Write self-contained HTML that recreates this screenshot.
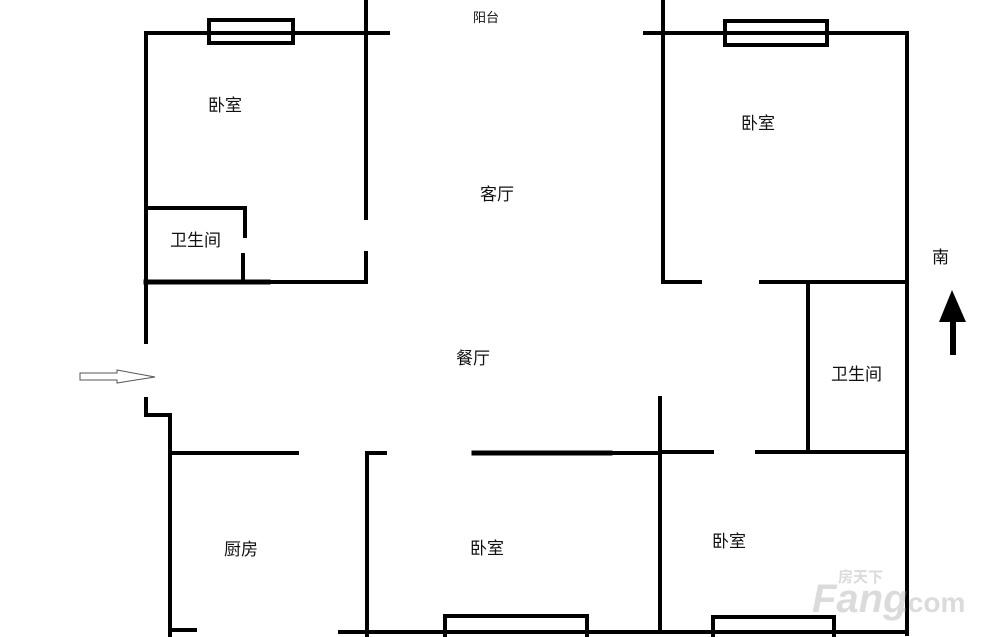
<!DOCTYPE html>
<html><head><meta charset="utf-8"><style>
body{margin:0;background:#fff;width:1000px;height:637px;overflow:hidden}
svg{display:block}
text{font-family:"Liberation Sans","Noto Sans CJK SC",sans-serif;font-size:17px;fill:#111}
</style></head><body>
<svg width="1000" height="637" viewBox="0 0 1000 637">
<g stroke="#000" stroke-width="4" fill="none" stroke-linecap="square">
<!-- top left bedroom -->
<line x1="146" y1="33" x2="388" y2="33"/>
<line x1="146" y1="33" x2="146" y2="342"/>
<line x1="146" y1="399" x2="146" y2="415"/>
<line x1="146" y1="415" x2="170" y2="415"/>
<line x1="170" y1="415" x2="170" y2="637"/>
<line x1="366" y1="0" x2="366" y2="218"/>
<line x1="366" y1="253" x2="366" y2="282"/>
<line x1="146" y1="208" x2="245" y2="208"/>
<line x1="245" y1="208" x2="245" y2="236"/>
<line x1="243" y1="255" x2="243" y2="282"/>
<line x1="146" y1="282" x2="366" y2="282"/>
<line x1="146" y1="282" x2="268" y2="282" stroke-width="5"/>
<!-- top right -->
<line x1="645" y1="33" x2="907" y2="33"/>
<line x1="663" y1="0" x2="663" y2="282"/>
<line x1="907" y1="33" x2="907" y2="634"/>
<line x1="663" y1="282" x2="700" y2="282"/>
<line x1="761" y1="282" x2="903" y2="282"/>
<line x1="808" y1="282" x2="808" y2="452"/>
<line x1="757" y1="452" x2="907" y2="452"/>
<line x1="660" y1="452" x2="712" y2="452"/>
<line x1="660" y1="398" x2="660" y2="632"/>
<!-- middle -->
<line x1="474" y1="453" x2="658" y2="453"/>
<line x1="474" y1="453" x2="610" y2="453" stroke-width="5"/>
<line x1="170" y1="453" x2="297" y2="453"/>
<line x1="367" y1="453" x2="385" y2="453"/>
<line x1="367" y1="453" x2="367" y2="637"/>
<!-- bottom -->
<line x1="340" y1="632" x2="907" y2="632"/>
<line x1="170" y1="630" x2="195" y2="630"/>
<!-- windows -->
<rect x="209" y="20" width="84" height="23"/>
<rect x="725" y="21" width="102" height="24"/>
<rect x="445" y="616" width="142" height="25"/>
<rect x="713" y="617" width="121" height="25"/>
</g>
<!-- north arrow -->
<polygon points="952,290 939,322 966,322" fill="#000"/>
<rect x="950" y="318" width="6" height="37" fill="#000"/>
<!-- entry arrow -->
<polygon points="80,373 117,373 117,370 155,377 117,383 117,380 80,380" fill="#fff" stroke="#555" stroke-width="1"/>
<g>
<text x="473" y="22" style="font-size:13px">阳台</text>
<text x="208" y="111">卧室</text>
<text x="480" y="200">客厅</text>
<text x="170" y="246">卫生间</text>
<text x="741" y="129">卧室</text>
<text x="932" y="263">南</text>
<text x="456" y="364">餐厅</text>
<text x="831" y="380">卫生间</text>
<text x="224" y="555">厨房</text>
<text x="470" y="554">卧室</text>
<text x="712" y="547">卧室</text>
</g>
<g opacity="0.35">
<text x="812" y="612" style="font-size:40px;font-weight:bold;font-style:italic;fill:#999">Fang</text>
<text x="900" y="612" style="font-size:28px;font-weight:bold;fill:#999">.com</text>
<text x="838" y="582" style="font-size:15px;font-weight:bold;fill:#999">房天下</text>
</g>
</svg>
</body></html>
